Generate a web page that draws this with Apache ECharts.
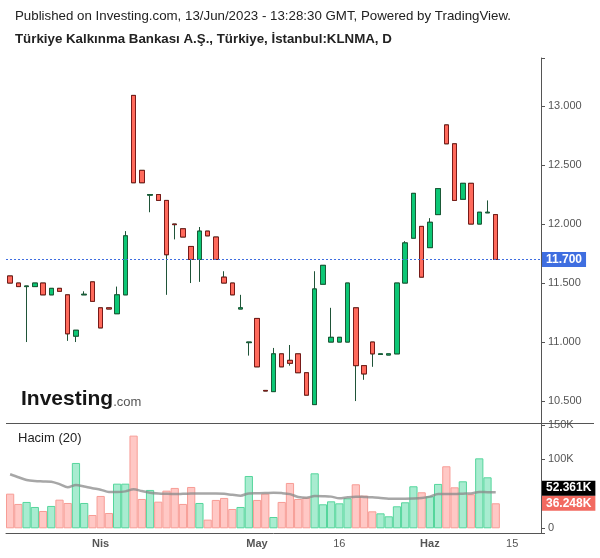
<!DOCTYPE html>
<html>
<head>
<meta charset="utf-8">
<script src="https://cdn.jsdelivr.net/npm/echarts@6/dist/echarts.min.js"></script>
<style>
html, body { margin: 0; padding: 0; background: #fff; }
#main { width: 600px; height: 558px; }
</style>
</head>
<body>
<div id="main"></div>
<script>
var myChart = echarts.init(document.getElementById('main'));

// trading days, last 5 are empty future days on the axis
var dates = ['17/03', '20/03', '21/03', '22/03', '23/03', '24/03', '27/03', '28/03', '29/03', '30/03', '31/03',
    '03/04', '04/04', '05/04', '06/04', '07/04', '10/04', '11/04', '12/04', '13/04', '14/04',
    '17/04', '18/04', '19/04', '20/04', '24/04', '25/04', '26/04', '27/04', '28/04',
    '02/05', '03/05', '04/05', '05/05', '08/05', '09/05', '10/05', '11/05', '12/05',
    '15/05', '16/05', '17/05', '18/05', '22/05', '23/05', '24/05', '25/05', '26/05', '29/05', '30/05', '31/05',
    '01/06', '02/06', '05/06', '06/06', '07/06', '08/06', '09/06', '12/06', '13/06',
    '14/06', '15/06', '16/06', '19/06', '20/06'];

var openP = [11.56, 11.50, 11.47, 11.47, 11.50, 11.40, 11.455, 11.40, 11.05, 11.40,
    11.51, 11.29, 11.29, 11.24, 11.40, 13.09, 12.455, 12.245, 12.25, 12.20,
    12.00, 11.96, 11.81, 11.70, 11.94, 11.89, 11.55, 11.50, 11.28, 10.995,
    11.20, 10.59, 10.58, 10.90, 10.845, 10.90, 10.74, 10.47, 11.49, 11.00,
    11.00, 11.00, 11.29, 10.80, 11.00, 10.895, 10.89, 10.90, 11.50, 11.88,
    11.98, 11.80, 12.08, 12.84, 12.68, 12.21, 12.345, 12.00, 12.095, 12.08];
var highP = [11.56, 11.50, 11.47, 11.50, 11.50, 11.455, 11.455, 11.40, 11.10, 11.43,
    11.51, 11.29, 11.29, 11.47, 11.94, 13.09, 12.455, 12.25, 12.25, 12.20,
    12.00, 11.96, 11.81, 11.975, 11.94, 11.89, 11.60, 11.50, 11.40, 11.00,
    11.20, 10.59, 10.95, 10.90, 10.975, 10.90, 10.74, 11.60, 11.65, 11.29,
    11.04, 11.50, 11.29, 10.80, 11.00, 10.90, 10.90, 11.50, 11.855, 12.26,
    11.98, 12.05, 12.30, 12.84, 12.68, 12.345, 12.345, 12.10, 12.20, 12.08];
var lowP = [11.50, 11.47, 11.00, 11.47, 11.40, 11.40, 11.43, 11.01, 11.00, 11.40,
    11.345, 11.12, 11.28, 11.24, 11.40, 12.35, 12.35, 12.10, 12.20, 11.40,
    11.87, 11.89, 11.50, 11.51, 11.90, 11.70, 11.50, 11.40, 11.28, 10.885,
    10.79, 10.585, 10.58, 10.79, 10.80, 10.74, 10.55, 10.47, 11.49, 11.00,
    11.00, 11.00, 10.50, 10.68, 10.79, 10.895, 10.89, 10.90, 11.50, 11.88,
    11.55, 11.80, 12.08, 12.68, 12.20, 12.21, 12.00, 12.00, 12.095, 11.70];
var closeP = [11.50, 11.47, 11.475, 11.50, 11.40, 11.455, 11.43, 11.07, 11.10, 11.405,
    11.345, 11.12, 11.28, 11.40, 11.90, 12.35, 12.35, 12.25, 12.20, 11.74,
    11.995, 11.89, 11.70, 11.94, 11.90, 11.70, 11.50, 11.40, 11.29, 11.00,
    10.79, 10.585, 10.90, 10.79, 10.82, 10.74, 10.55, 11.45, 11.65, 11.04,
    11.04, 11.50, 10.80, 10.73, 10.90, 10.90, 10.90, 11.50, 11.84, 12.26,
    11.55, 12.015, 12.30, 12.68, 12.20, 12.345, 12.00, 12.10, 12.10, 11.70];

var volume = [50200, 35300, 38200, 30900, 25100, 32400, 41500, 36700, 94700, 36700,
    19300, 46900, 22200, 64700, 64700, 134300, 42500, 55600, 38600, 54600,
    58500, 35300, 59900, 36700, 12600, 41100, 44000, 28000, 30900, 75800,
    41100, 50200, 16400, 38200, 65700, 42500, 44400, 79700, 34800, 39100,
    36200, 43500, 63800, 47300, 24600, 21700, 17400, 31900, 37700, 60900,
    52200, 46400, 64300, 89900, 59400, 68100, 49300, 101400, 73900, 36248];
// Hacim (20) average line
var volumeMA = [78300, 74000, 70000, 68500, 68000, 67500, 64000, 59500, 62800, 60500,
    58000, 56000, 52600, 52600, 53500, 56500, 54000, 51600, 50500, 50000,
    49700, 50000, 50300, 50600, 50600, 50600, 50000, 48500, 47300, 50600,
    50800, 51000, 51600, 51000, 49500, 45500, 44400, 46800, 46500, 45900,
    43500, 45000, 45900, 45500, 45000, 44000, 42900, 43000, 43000, 43200,
    43900, 45900, 49700, 49800, 49700, 50200, 50600, 52600, 52400, 52361];

var tickIdx = [11, 30, 40, 51, 61];
var tickText = ['Nis', 'May', '16', 'Haz', '15'];
var tickBold = [true, true, false, true, false];

var upColor = '#0cc775', upBorder = '#1b5a37';
var downColor = '#ff6a5c', downBorder = '#781a18';
var wickColor = '#1f5438';
var font = 'Liberation Sans, Arial';

var candleFull = [], candleBody = [], volData = [];
for (var i = 0; i < openP.length; i++) {
    candleFull.push([openP[i], closeP[i], lowP[i], highP[i]]);
    candleBody.push([openP[i], closeP[i], Math.min(openP[i], closeP[i]), Math.max(openP[i], closeP[i])]);
    var up = closeP[i] >= openP[i];
    volData.push({
        value: volume[i],
        itemStyle: {
            color: up ? '#a8ecd0' : '#ffc8c5',
            borderColor: up ? '#55d69c' : '#f79d96',
            borderWidth: 1
        }
    });
}
var last = openP.length - 1;

function lastLabel(text, bg, dy) {
    return {
        silent: true, symbol: ['none', 'none'], animation: false,
        lineStyle: { color: 'rgba(0,0,0,0)', width: 0 },
        label: {
            show: true, position: 'end', distance: 1, offset: [0, dy],
            formatter: text,
            color: '#fff', backgroundColor: bg,
            fontWeight: 'bold', fontSize: 12, fontFamily: font,
            padding: [2, 4, 1, 4]
        }
    };
}

var volMark = lastLabel((volume[last] / 1000).toFixed(3) + 'K', '#f26a60', 0);
volMark.data = [{ yAxis: volume[last] }];
var maMark = lastLabel((volumeMA[last] / 1000).toFixed(3) + 'K', '#000', -4);
maMark.data = [{ yAxis: volumeMA[last] }];

option = {
    animation: false,
    title: [
        {
            text: 'Published on Investing.com, 13/Jun/2023 - 13:28:30 GMT, Powered by TradingView.',
            left: 15, top: 10, padding: 0,
            textStyle: { fontSize: 13.3, fontWeight: 'normal', color: '#222', fontFamily: font }
        },
        {
            text: 'Türkiye Kalkınma Bankası A.Ş., Türkiye, İstanbul:KLNMA, D',
            left: 15, top: 33, padding: 0,
            textStyle: { fontSize: 13.3, fontWeight: 'bold', color: '#222', fontFamily: font }
        },
        {
            text: 'Hacim (20)',
            left: 18, top: 432, padding: 0,
            textStyle: { fontSize: 13, fontWeight: 'normal', color: '#222', fontFamily: font }
        }
    ],
    grid: [
        { left: 6, right: 59, top: 58, height: 365 },
        { left: 6, right: 59, top: 423, height: 110 }
    ],
    xAxis: [
        {
            type: 'category', gridIndex: 0, data: dates, boundaryGap: true,
            axisLine: { show: false }, axisTick: { show: false }, axisLabel: { show: false },
            splitLine: { show: false }
        },
        {
            type: 'category', gridIndex: 1, data: dates, boundaryGap: true,
            axisLine: { onZero: false, lineStyle: { color: '#555', width: 1 } },
            axisTick: { show: false },
            splitLine: { show: false },
            axisLabel: {
                margin: 5,
                fontSize: 11,
                color: '#555',
                fontFamily: font,
                interval: function (index) { return tickIdx.indexOf(index) >= 0; },
                formatter: function (value, index) {
                    var k = tickIdx.indexOf(index);
                    if (k < 0) return '';
                    return tickBold[k] ? '{b|' + tickText[k] + '}' : tickText[k];
                },
                rich: { b: { fontWeight: 'bold', fontSize: 11, color: '#555' } }
            }
        }
    ],
    yAxis: [
        {
            type: 'value', gridIndex: 0, position: 'right', scale: true,
            min: 10.314, max: 13.407, splitNumber: 6,
            splitLine: { show: false },
            axisLine: { show: true, lineStyle: { color: '#555' } },
            axisTick: { show: true, length: 4, lineStyle: { color: '#555' } },
            axisLabel: {
                margin: 7, fontSize: 11, color: '#555', fontFamily: font,
                formatter: function (v) {
                    return Math.abs(v * 2 - Math.round(v * 2)) < 1e-6 ? v.toFixed(3) : '';
                }
            }
        },
        {
            type: 'value', gridIndex: 1, position: 'right',
            min: -6800, max: 152600, splitNumber: 3,
            splitLine: { show: false },
            axisLine: { show: true, lineStyle: { color: '#555' } },
            axisTick: { show: true, length: 4, lineStyle: { color: '#555' } },
            axisLabel: {
                margin: 7, fontSize: 11, color: '#555', fontFamily: font,
                formatter: function (v) {
                    if (v === 0) return '0';
                    if (v === 100000) return '100K';
                    if (v === 150000) return '150K';
                    return '';
                }
            }
        }
    ],
    series: [
        { // wicks
            type: 'candlestick', xAxisIndex: 0, yAxisIndex: 0,
            barWidth: 5,
            data: candleFull,
            itemStyle: {
                color: upColor, color0: downColor,
                borderColor: wickColor, borderColor0: wickColor, borderWidth: 1
            }
        },
        { // bodies
            type: 'candlestick', xAxisIndex: 0, yAxisIndex: 0,
            barWidth: 5,
            data: candleBody,
            itemStyle: {
                color: upColor, color0: downColor,
                borderColor: upBorder, borderColor0: downBorder, borderWidth: 1
            },
            markLine: {
                silent: true, symbol: ['none', 'none'], animation: false,
                data: [{ yAxis: closeP[last] }],
                lineStyle: { color: '#3f6ee0', type: [2, 2], width: 1 },
                label: {
                    position: 'end', distance: 1,
                    formatter: closeP[last].toFixed(3),
                    color: '#fff', backgroundColor: '#3f6ee0',
                    fontWeight: 'bold', fontSize: 12, fontFamily: font,
                    padding: [2, 4, 1, 4]
                }
            }
        },
        {
            type: 'bar', xAxisIndex: 1, yAxisIndex: 1,
            barCategoryGap: '0%',
            data: volData,
            markLine: volMark
        },
        {
            type: 'line', xAxisIndex: 1, yAxisIndex: 1,
            data: volumeMA,
            showSymbol: false, smooth: 0.3,
            lineStyle: { color: '#8a8a8a', width: 2.5, opacity: 0.75 },
            markLine: maMark
        }
    ],
    graphic: [
        {
            type: 'line', silent: true,
            shape: { x1: 6, y1: 423.5, x2: 594, y2: 423.5 },
            style: { stroke: '#555', lineWidth: 1 }
        },
        {
            type: 'text', left: 21, top: 389, silent: true,
            style: {
                text: '{a|Investing}{b|.com}',
                rich: {
                    a: { fontSize: 21, fontWeight: 'bold', fill: '#161616', fontFamily: font },
                    b: { fontSize: 13, fill: '#555', fontFamily: font, padding: [5, 0, 0, 0] }
                }
            }
        }
    ]
};

myChart.setOption(option);
</script>
</body>
</html>
